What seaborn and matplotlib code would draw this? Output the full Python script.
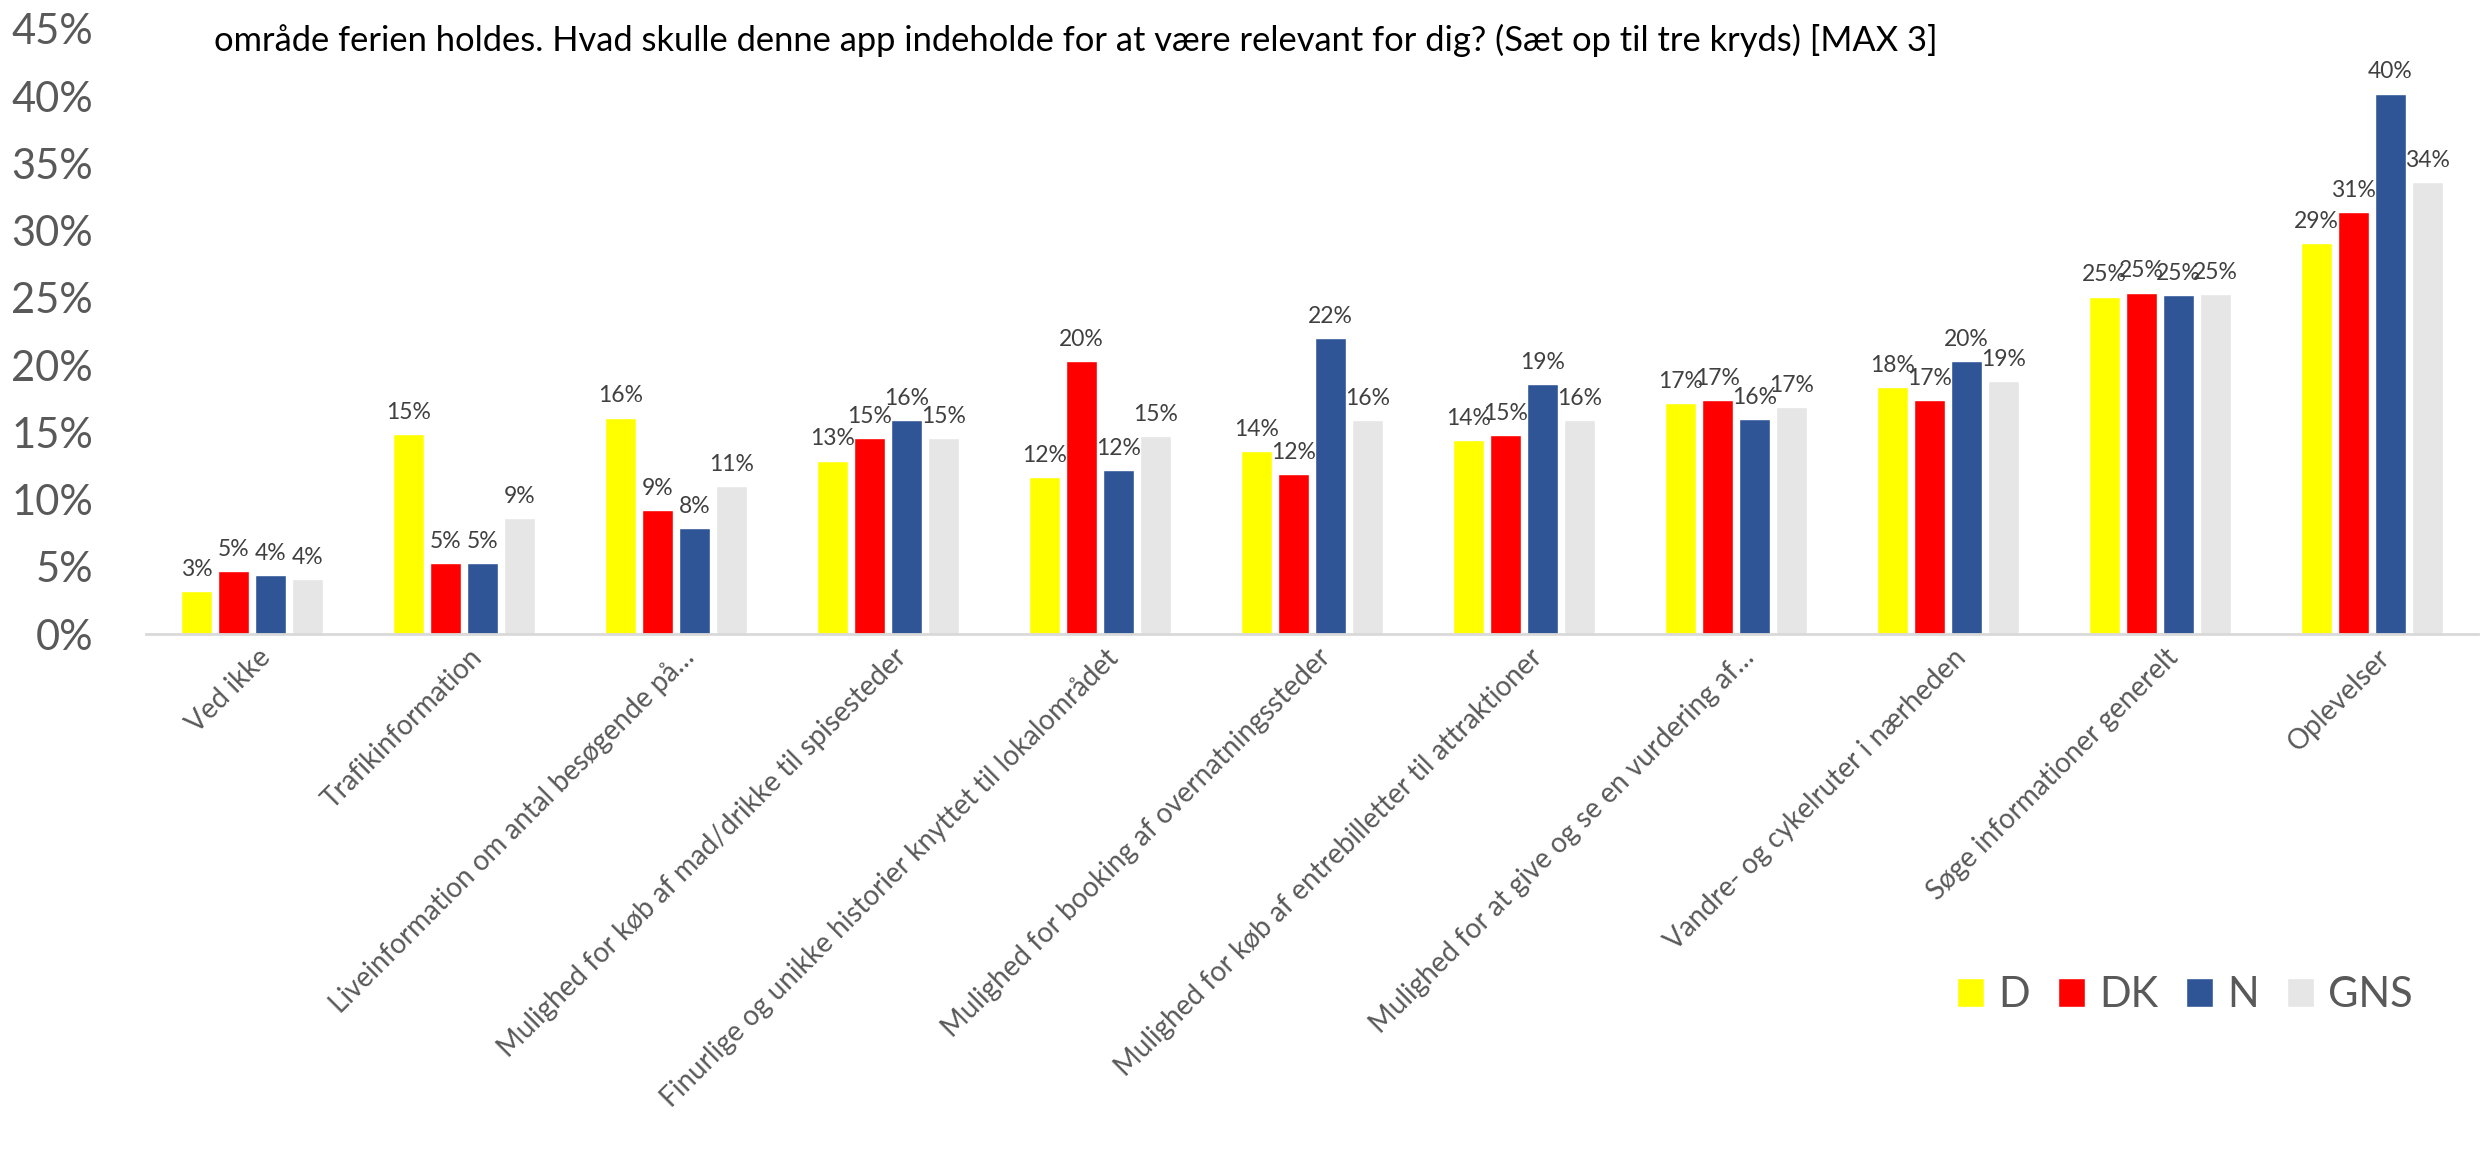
import seaborn as sns
import pandas as pd
import matplotlib.pyplot as plt
from matplotlib.transforms import ScaledTranslation

# data (aflæst fra figuren, i procent)
kategorier = [
    "Ved ikke",
    "Trafikinformation",
    "Liveinformation om antal besøgende på…",
    "Mulighed for køb af mad/drikke til spisesteder",
    "Finurlige og unikke historier knyttet til lokalområdet",
    "Mulighed for booking af overnatningssteder",
    "Mulighed for køb af entrebilletter til attraktioner",
    "Mulighed for at give og se en vurdering af…",
    "Vandre- og cykelruter i nærheden",
    "Søge informationer generelt",
    "Oplevelser",
]
D = [3.2, 14.9, 16.1, 12.9, 11.7, 13.6, 14.4, 17.2, 18.4, 25.1, 29.1]
DK = [4.7, 5.3, 9.2, 14.6, 20.3, 11.9, 14.8, 17.4, 17.4, 25.4, 31.4]
N = [4.4, 5.3, 7.9, 15.9, 12.2, 22.0, 18.6, 16.0, 20.3, 25.2, 40.2]
GNS = [4.1, 8.6, 11.0, 14.6, 14.7, 15.9, 15.9, 16.9, 18.8, 25.3, 33.6]
serier = ["D", "DK", "N", "GNS"]
farver = ["#FFFF00", "#FF0000", "#2F5597", "#E7E6E6"]

titel = ("område ferien holdes. Hvad skulle denne app indeholde for at være "
         "relevant for dig? (Sæt op til tre kryds) [MAX 3]")

df = pd.DataFrame({"kategori": kategorier, "D": D, "DK": DK, "N": N, "GNS": GNS})
df = df.melt(id_vars="kategori", var_name="serie", value_name="andel")

sns.set_style("white")
plt.rcParams["font.family"] = ["Lato", "DejaVu Sans"]

W, H = 2491, 1152
fig = plt.figure(figsize=(W / 100, H / 100), dpi=100)
ax = fig.add_axes([146 / W, 1 - 634 / H, (2478 - 146) / W, (634 - 29) / H])

sns.barplot(data=df, x="kategori", y="andel", hue="serie", hue_order=serier,
            palette=farver, width=0.7, gap=0.15, saturation=1, ax=ax)

for c in ax.containers:
    ax.bar_label(c, labels=[f"{v:.0f}%" for v in c.datavalues],
                 padding=8, fontsize=16.5, color="#404040")

ax.set_ylim(0, 45)
ax.set_yticks(range(0, 46, 5))
ax.set_yticklabels([f"{t}%" for t in range(0, 46, 5)])
ax.tick_params(axis="y", labelsize=30, labelcolor="#595959", length=0, pad=38)
ax.tick_params(axis="x", labelsize=20, labelcolor="#595959", length=0, pad=14)
forskyd = ScaledTranslation(14 / 100, 0, fig.dpi_scale_trans)
for t in ax.get_xticklabels():
    t.set_rotation(45)
    t.set_ha("right")
    t.set_va("center")
    t.set_rotation_mode("anchor")
    t.set_transform(t.get_transform() + forskyd)
ax.set_xlabel("")
ax.set_ylabel("")

for s in ["top", "right", "left"]:
    ax.spines[s].set_visible(False)
ax.spines["bottom"].set_color("#D9D9D9")
ax.spines["bottom"].set_linewidth(2)

fig.text(214 / W, 1 - 40 / H, titel, fontsize=24.8, color="black", va="center")

handles, labels = ax.get_legend_handles_labels()
ax.legend(handles, labels, loc="center", bbox_to_anchor=(2185 / W, 1 - 995 / H),
          bbox_transform=fig.transFigure, ncol=4, frameon=False, fontsize=30,
          labelcolor="#595959", handlelength=0.65, handleheight=0.72,
          handletextpad=0.34, columnspacing=0.67)

fig.savefig("out.png", dpi=100)
